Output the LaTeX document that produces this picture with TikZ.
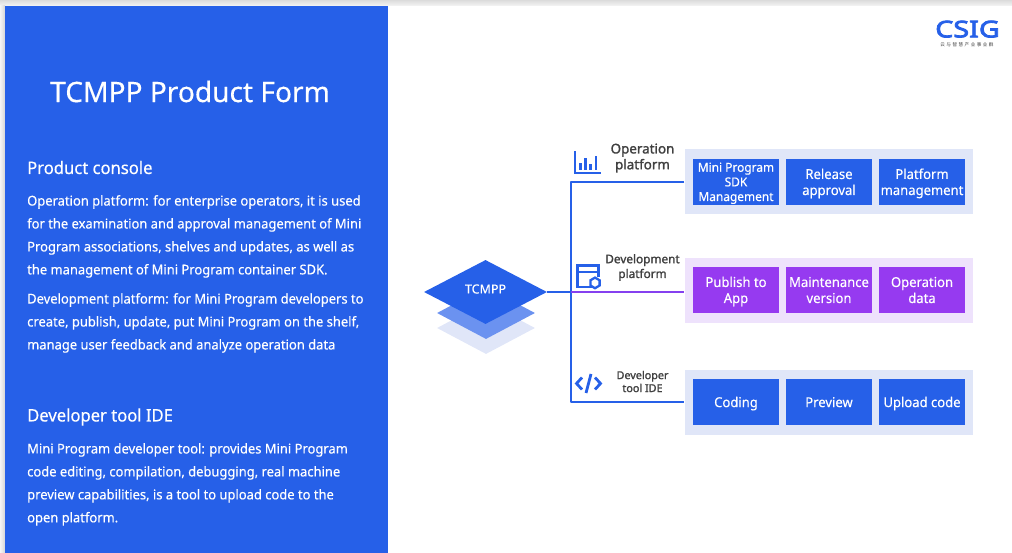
\documentclass[tikz,border=0pt]{standalone}
\usepackage{fontspec}
\setmainfont{Noto Sans}[FakeBold=0.3]
\newfontfamily\bodyfont{Noto Sans}[FakeStretch=0.96, FakeBold=0.3]
\newfontfamily\capfont{Noto Sans}[FakeBold=1.6]
\newfontfamily\logofont{Noto Sans}[FakeBold=3.5, FakeStretch=1.25]
\newfontfamily\cjkfont{Noto Sans CJK SC}[LetterSpace=32]
\usetikzlibrary{shapes.geometric, calc}
\definecolor{brand}{RGB}{38, 96, 232}
\definecolor{mid}{RGB}{107, 146, 240}
\definecolor{pale}{RGB}{224, 230, 248}
\definecolor{violet}{RGB}{150, 58, 240}
\definecolor{paleviolet}{RGB}{238, 226, 252}
\definecolor{caption}{RGB}{64, 64, 64}
\newcommand{\pxfont}[1]{\fontsize{#1}{#1}\selectfont}
\tikzset{
  panel/.style={minimum width=288pt, minimum height=65pt, inner sep=0pt, fill=pale},
  cell/.style={minimum width=86pt, minimum height=46pt, inner sep=0pt, fill=brand,
    text=white, align=center, font=\bodyfont\pxfont{13.6}\linespread{1.18}\selectfont,
    execute at begin node=\rule{0pt}{15pt}, execute at end node=\strut},
  lower/.style={text height=#1, text depth=4pt},
  rhomb/.style={diamond, inner sep=0pt},
  link/.style={draw=brand, line width=2.2pt, line join=round},
  icon/.style={draw=brand, line width=2.3pt},
  heading/.style={text=caption, align=center},
  prose/.style={text=white, anchor=north west, align=left, inner sep=0pt,
    font=\bodyfont\pxfont{13.5}\linespread{1.7}\selectfont}
}

\begin{document}
\begin{tikzpicture}[x=1pt, y=-1pt]
  \useasboundingbox (0, 0) rectangle (1012, 553);

  % page edge
  \shade[top color=black!14, bottom color=black!4] (0, 0) rectangle (1012, 6);
  \shade[left color=black!4, right color=black!16] (0, 6) rectangle (5, 553);

  % left side
  \fill[brand] (5, 6) rectangle (388, 553);
  \node[text=white, font=\pxfont{28.1}, anchor=west, inner sep=0pt] (title) at (50, 91.5) {TCMPP Product Form};
  \node[prose, font=\bodyfont\pxfont{17.3}, anchor=west] (consolehead) at (27, 167.5) {Product console};
  \node[prose] (opstext) at (27, 195)
    {Operation platform: for enterprise operators, it is used\\
     for the examination and approval management of Mini\\
     Program associations, shelves and updates, as well as\\
     the management of Mini Program container SDK.};
  \node[prose] (devtext) at (27, 293)
    {Development platform: for Mini Program developers to\\
     create, publish, update, put Mini Program on the shelf,\\
     manage user feedback and analyze operation data};
  \node[prose, font=\bodyfont\pxfont{17.3}, anchor=west] (idehead) at (27, 417) {Developer tool IDE};
  \node[prose] (idetext) at (27, 443)
    {Mini Program developer tool: provides Mini Program\\
     code editing, compilation, debugging, real machine\\
     preview capabilities, is a tool to upload code to the\\
     open platform.};

  % logo
  \node[text=brand, font=\logofont\pxfont{23}, inner sep=0pt, text depth=0pt] (logo) at (967.5, 29) {CSIG};
  \node[text=caption, font=\cjkfont\pxfont{4.6}, inner sep=0pt] (logosub) at (967, 45) {云与智慧产业事业群};

  % stacked diamonds
  \node[rhomb, fill=pale, minimum width=98pt, minimum height=52pt] (layerb) at (486, 328) {};
  \node[rhomb, fill=mid, minimum width=98pt, minimum height=52pt] (layera) at (486, 313) {};
  \node[rhomb, fill=brand, minimum width=123pt, minimum height=64pt] (tcmpp) at (485.5, 292) {};
  \node[text=white, font=\pxfont{12.5}, inner sep=0pt] (tcmpplabel) at (485.5, 289) {TCMPP};

  % panels
  \node[panel] (opspanel) at (828.5, 182) {};
  \node[panel, fill=paleviolet] (devpanel) at (828.5, 290.5) {};
  \node[panel] (idepanel) at (828.5, 402) {};

  \node[cell, lower=42pt, font=\bodyfont\pxfont{12.4}\linespread{1.18}\selectfont] (opsa) at (736, 182) {Mini Program\\SDK\\Management};
  \node[cell, lower=30pt] (opsb) at (829, 182) {Release\\approval};
  \node[cell, lower=30pt] (opsc) at (922, 182) {Platform\\management};

  \node[cell, lower=30pt, fill=violet] (deva) at (736, 290) {Publish to\\App};
  \node[cell, lower=30pt, fill=violet] (devb) at (829, 290) {Maintenance\\version};
  \node[cell, lower=30pt, fill=violet] (devc) at (922, 290) {Operation\\data};

  \node[cell] (idea) at (736, 402) {Coding};
  \node[cell] (ideb) at (829, 402) {Preview};
  \node[cell] (idec) at (922, 402) {Upload code};

  % connectors
  \coordinate (hub) at (571, 292);
  \draw[link] (tcmpp.east) -- (hub);
  \draw[link] (opspanel.west) -| (hub) |- (idepanel.west);
  \draw[draw=violet!85!brand, line width=2.2pt] (hub) -- (devpanel.west |- hub);

  % captions
  \node[heading, font=\capfont\pxfont{13.4}\linespread{1.18}\selectfont] (opscap) at (642.5, 158) {Operation\\platform};
  \node[heading, font=\capfont\pxfont{11.8}\linespread{1.25}\selectfont] (devcap) at (642.5, 267.5) {Development\\platform};
  \node[heading, font=\capfont\pxfont{10.8}\linespread{1.2}\selectfont] (idecap) at (642.5, 381.5) {Developer\\tool IDE};

  % chart icon
  \draw[icon] (575, 151.5) -- (575, 173) -- (601, 173);
  \draw[icon] (580.5, 170) -- (580.5, 163) (585.5, 170) -- (585.5, 158)
    (590.5, 170) -- (590.5, 164) (596, 170) -- (596, 156);

  % window icon
  \draw[icon] (592, 287) -- (577.5, 287) -- (577.5, 265.5) -- (598.5, 265.5) -- (598.5, 277);
  \draw[icon] (577.5, 272) -- (598.5, 272);
  \draw[icon, fill=white] (595, 277.6) -- (599.6, 280.3) -- (599.6, 285.5) -- (595, 288.2) -- (590.4, 285.5) -- (590.4, 280.3) -- cycle;

  % code icon
  \draw[icon, line width=2.8pt] (582, 377.5) -- (576.5, 383.5) -- (582, 389.5);
  \draw[icon, line width=2.8pt] (595, 377.5) -- (600.5, 383.5) -- (595, 389.5);
  \draw[icon, line width=2.8pt] (591, 374) -- (586, 393);
\end{tikzpicture}
\end{document}
